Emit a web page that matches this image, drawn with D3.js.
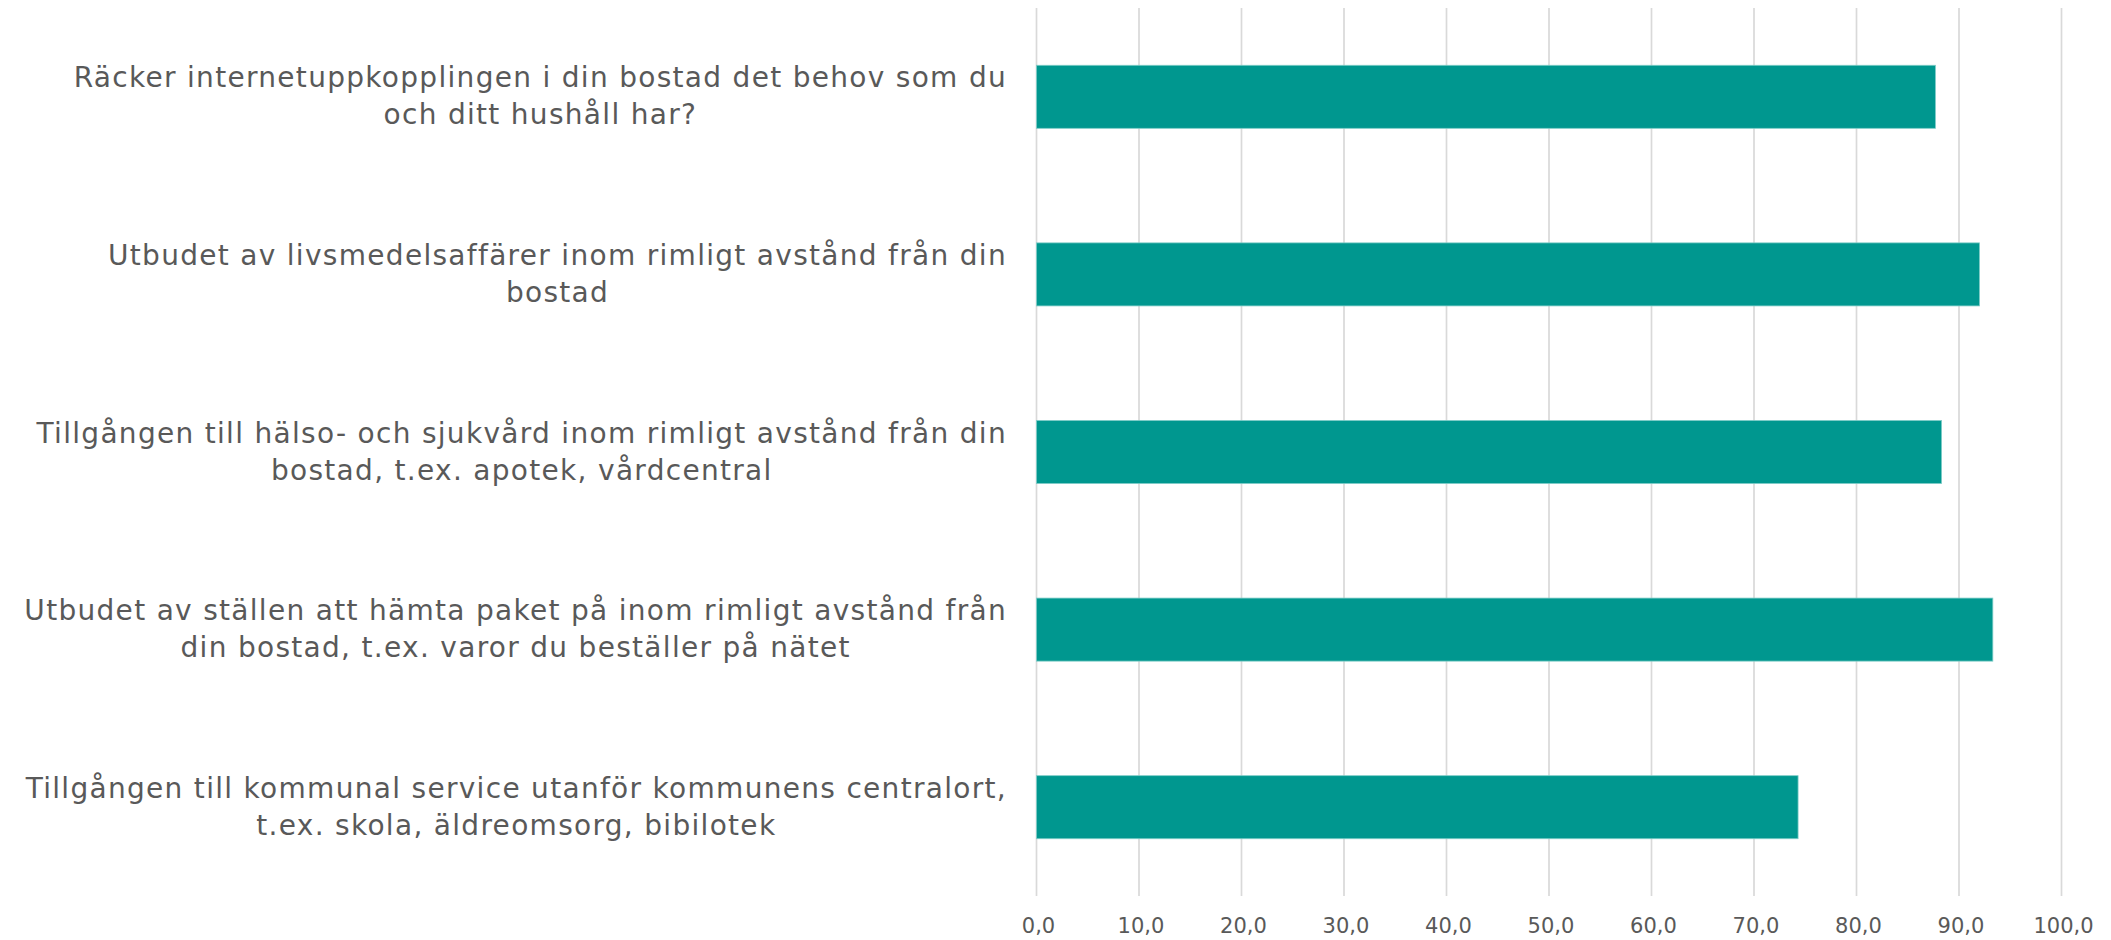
<!DOCTYPE html>
<html>
<head>
<meta charset="utf-8">
<style>
    body { margin: 0; background: #fff; }
    text { font-family: 'Century Gothic', 'DejaVu Sans', sans-serif; fill: #595959; }
</style>
</head>
<body>
<div id="chart"></div>
<script src="https://cdn.jsdelivr.net/npm/d3@7"></script>
<script>
var categories = [
    'Räcker internetuppkopplingen i din bostad det behov som du\noch ditt hushåll har?',
    'Utbudet av livsmedelsaffärer inom rimligt avstånd från din\nbostad',
    'Tillgången till hälso- och sjukvård inom rimligt avstånd från din\nbostad, t.ex. apotek, vårdcentral',
    'Utbudet av ställen att hämta paket på inom rimligt avstånd från\ndin bostad, t.ex. varor du beställer på nätet',
    'Tillgången till kommunal service utanför kommunens centralort,\nt.ex. skola, äldreomsorg, bibilotek'
];
var values = [87.7, 92.0, 88.3, 93.3, 74.3];
var ticks = [0, 10, 20, 30, 40, 50, 60, 70, 80, 90, 100];

var width = 2111,
    height = 940;

var margin = {top: 8, bottom: 44, left: 1036.5, right: 49.5};

var svg = d3.select('#chart')
    .append('svg')
    .attr('width', width)
    .attr('height', height);

var x = d3.scaleLinear()
    .domain([0, 100])
    .range([margin.left, width - margin.right]);

var y = d3.scaleBand()
    .domain(categories)
    .range([margin.top, height - margin.bottom])
    .paddingInner(0.645)
    .paddingOuter(0.3225);

// gridlines
svg.selectAll('line.grid')
    .data(ticks)
    .enter()
    .append('line')
    .attr('class', 'grid')
    .attr('x1', function(d){ return x(d); })
    .attr('x2', function(d){ return x(d); })
    .attr('y1', margin.top)
    .attr('y2', height - margin.bottom)
    .style('stroke', '#d9d9d9')
    .style('stroke-width', 1.7);

// tick labels
svg.selectAll('text.tick')
    .data(ticks)
    .enter()
    .append('text')
    .attr('class', 'tick')
    .attr('x', function(d){ return x(d) + 2; })
    .attr('y', 933)
    .attr('text-anchor', 'middle')
    .style('font-size', '21px')
    .text(function(d){ return d.toFixed(1).replace('.', ','); });

// bars
svg.selectAll('rect.bar')
    .data(values)
    .enter()
    .append('rect')
    .attr('class', 'bar')
    .attr('x', x(0))
    .attr('y', function(d, i){ return y(categories[i]); })
    .attr('width', function(d){ return x(d) - x(0); })
    .attr('height', y.bandwidth())
    .style('fill', '#00978f')
    .style('stroke', '#7fcdc8')
    .style('stroke-width', 0.8);

// category labels, lines centred on each other, block right-aligned
var labelRight = 1007,
    lineGap = 37;

categories.forEach(function(cat){
    var lines = cat.split('\n');
    var g = svg.append('g');
    var cy = y(cat) + y.bandwidth() / 2;
    var texts = lines.map(function(line, j){
        return g.append('text')
            .attr('text-anchor', 'middle')
            .attr('y', cy - (lines.length - 1) * lineGap / 2 + j * lineGap + 9)
            .style('font-size', '28px')
            .style('letter-spacing', '1.3px')
            .text(line);
    });
    var w = d3.max(texts, function(t){ return t.node().getComputedTextLength(); });
    texts.forEach(function(t){ t.attr('x', labelRight - w / 2); });
});
</script>
</body>
</html>
